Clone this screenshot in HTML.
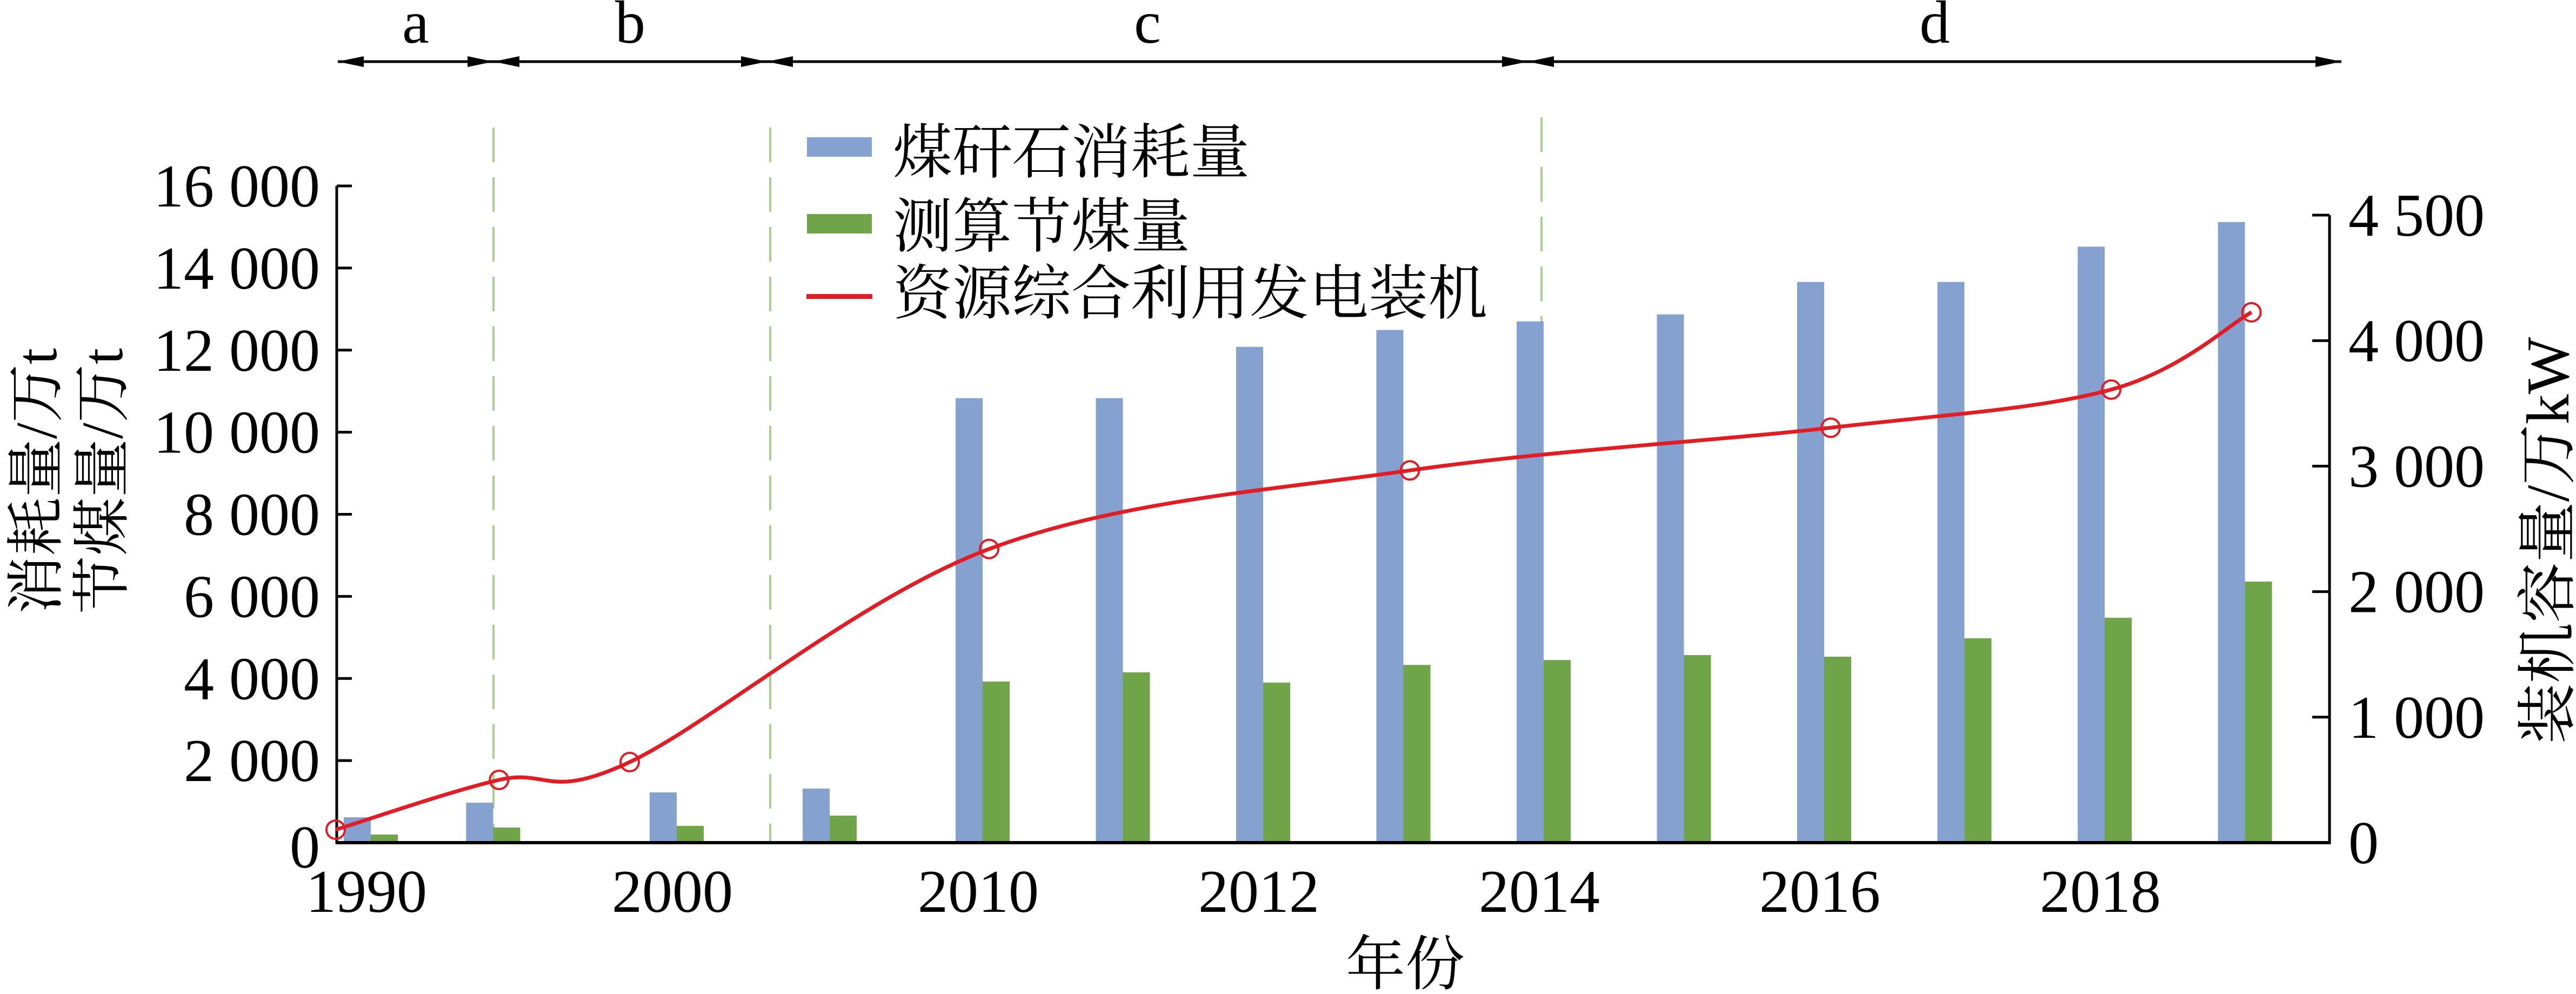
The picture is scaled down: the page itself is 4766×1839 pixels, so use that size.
<!DOCTYPE html>
<html><head><meta charset="utf-8">
<style>
html,body{margin:0;padding:0;background:#fff;}
svg{display:block;}
svg text{font-family:"Liberation Serif","Noto Serif CJK SC","Noto Sans CJK SC",serif;fill:#000;}
</style></head>
<body>
<svg id="chart" width="4766" height="1839" viewBox="0 0 4766 1839" xmlns="http://www.w3.org/2000/svg" font-family="'Liberation Serif','Noto Serif CJK SC',serif">
<defs>
<marker id="ah" viewBox="0 0 48 20" refX="48" refY="10" markerWidth="48" markerHeight="20" markerUnits="userSpaceOnUse" orient="auto-start-reverse"><path d="M0,0 L48,10 L0,20 Z" fill="#000"/></marker>
</defs>
<g id="annot"></g>
<g id="bars"></g>
<g id="axes"></g>
<g id="line"></g>
<g id="legend">
  <rect x="1493" y="254" width="120" height="36" fill="#84a1d0"/>
  <text x="1652" y="320" font-size="110">煤矸石消耗量</text>
  <rect x="1493" y="396" width="120" height="36" fill="#6fa548"/>
  <text x="1652" y="457" font-size="110">测算节煤量</text>
  <rect x="1492" y="544" width="122" height="9" fill="#e31b23"/>
  <text x="1652" y="581" font-size="110">资源综合利用发电装机</text>
</g>
<text font-size="108" text-anchor="middle" transform="translate(104,890) rotate(-90)">消耗量/万t</text>
<text font-size="108" text-anchor="middle" transform="translate(226,890) rotate(-90)">节煤量/万t</text>
<text font-size="112" text-anchor="middle" transform="translate(4752,1000) rotate(-90)">装机容量/万kW</text>
<text font-size="110" text-anchor="middle" x="2600" y="1822">年份</text>
</svg>
<script>
// ---- data ----
const barYears = [1990, 1994, 2000, 2005, 2010, 2011, 2012, 2013, 2014, 2015, 2016, 2017, 2018, 2019];
const gangueValues = [618, 974, 1224, 1317, 10830, 10830, 12080, 12490, 12700, 12870, 13660, 13660, 14520, 15120];
const savingValues = [197, 368, 408, 659, 3926, 4150, 3900, 4330, 4450, 4570, 4530, 4980, 5480, 6360];
const lineYears = [1990, 1995, 1999, 2010, 2013, 2016, 2018, 2019];
const capacityValues = [103, 500, 642, 2340, 2966, 3306, 3610, 4226];
const xTickYears = [1990, 2000, 2010, 2012, 2014, 2016, 2018];
const xTickLabels = ["1990", "2000", "2010", "2012", "2014", "2016", "2018"];
const leftTicks = [0, 2000, 4000, 6000, 8000, 10000, 12000, 14000, 16000];
const leftTickLabels = ["0", "2 000", "4 000", "6 000", "8 000", "10 000", "12 000", "14 000", "16 000"];
const rightTicks = [0, 1000, 2000, 3000, 4000, 5000];
const rightTickLabels = ["0", "1 000", "2 000", "3 000", "4 000", "4 500"];
const periodLabels = ["a", "b", "c", "d"];

// ---- layout ----
const NS = "http://www.w3.org/2000/svg";
const X0 = 623, X1 = 4310, Y0 = 1559;
const leftTop = 344, rightTop = 398;
function yL(v){ return Y0 - v * (Y0 - leftTop) / 16000; }
function yR(v){ return Y0 - v * (Y0 - rightTop) / 5000; }
function xBar(y){ return y <= 2010 ? 1818 + (y - 2010) * 56.6 : 1818 + (y - 2010) * 259.5; }
function xLine(y){ return y <= 2010 ? 1830 + (y - 2010) * 60.45 : 1830 + (y - 2010) * 259.5; }
function mk(tag, attrs, parent){ const e = document.createElementNS(NS, tag); for (const k in attrs) e.setAttribute(k, attrs[k]); parent.appendChild(e); return e; }

const gBars = document.getElementById('bars');
const gAxes = document.getElementById('axes');
const gLine = document.getElementById('line');
const gAnn = document.getElementById('annot');
const BW = 50;

const sepX = [913, 1425, 2852], sepTop = [236, 236, 217];
sepX.forEach((x, i) => {
  const l = mk('line', {x1: x, x2: x, y1: sepTop[i], y2: Y0, stroke: '#a9d08e', 'stroke-width': 4, 'stroke-dasharray': '64 28'}, gAnn);
  
  
});
const arrowB = [625, 913, 1419, 2827, 4332];
periodLabels.forEach((p, i) => {
  const a = mk('line', {x1: arrowB[i], x2: arrowB[i+1], y1: 114, y2: 114, stroke: '#000', 'stroke-width': 5, 'marker-start': 'url(#ah)', 'marker-end': 'url(#ah)'}, gAnn);
  
  
  const t = mk('text', {x: (arrowB[i] + arrowB[i+1]) / 2, y: 79, 'font-size': 112, 'text-anchor': 'middle'}, gAnn);
  t.textContent = p;
  
  
});

barYears.forEach((yr, i) => {
  const c = xBar(yr);
  const b = mk('rect', {x: c - BW, y: yL(gangueValues[i]), width: BW, height: Y0 - yL(gangueValues[i]), fill: '#84a1d0'}, gBars);
  
  
  const g = mk('rect', {x: c, y: yL(savingValues[i]), width: BW, height: Y0 - yL(savingValues[i]), fill: '#6fa548'}, gBars);
  
  
});

const axL = mk('line', {x1: X0, x2: X0, y1: leftTop, y2: Y0 + 2, stroke: '#000', 'stroke-width': 5}, gAxes);


const axR = mk('line', {x1: X1, x2: X1, y1: rightTop, y2: Y0 + 2, stroke: '#000', 'stroke-width': 5}, gAxes);


const axB = mk('line', {x1: X0 - 2, x2: X1 + 2, y1: Y0, y2: Y0, stroke: '#000', 'stroke-width': 6}, gAxes);



leftTicks.forEach((v, i) => {
  const y = yL(v);
  if (v > 0) { const t = mk('line', {x1: X0, x2: X0 + 28, y1: y, y2: y, stroke: '#000', 'stroke-width': 5}, gAxes);
    
     }
  const lb = mk('text', {x: 592, y: y + (v === 0 ? 46 : 38), 'font-size': 112, 'text-anchor': 'end'}, gAxes);
  lb.textContent = leftTickLabels[i];
  
  
});
rightTicks.forEach((v, i) => {
  const y = yR(v);
  if (v > 0) { const t = mk('line', {x1: X1 - 32, x2: X1, y1: y, y2: y, stroke: '#000', 'stroke-width': 5}, gAxes);
    
     }
  const lb = mk('text', {x: 4345, y: y + 38, 'font-size': 112, 'text-anchor': 'start'}, gAxes);
  lb.textContent = rightTickLabels[i];
  
  
});
xTickYears.forEach((yr, i) => {
  const lb = mk('text', {x: xBar(yr) - 8, y: 1687, 'font-size': 112, 'text-anchor': 'middle'}, gAxes);
  lb.textContent = xTickLabels[i];
  
  
});

// Catmull-Rom curve through points
const px = lineYears.map(xLine), py = capacityValues.map(yR);
const n = px.length;
let dstr = 'M' + px[0] + ',' + py[0];
for (let i = 0; i < n - 1; i++) {
  const x0 = i > 0 ? px[i-1] : px[i], y0 = i > 0 ? py[i-1] : py[i];
  const x3 = i < n - 2 ? px[i+2] : px[i+1], y3 = i < n - 2 ? py[i+2] : py[i+1];
  const c1x = px[i] + (px[i+1] - x0) / 6, c1y = py[i] + (py[i+1] - y0) / 6;
  const c2x = px[i+1] - (x3 - px[i]) / 6, c2y = py[i+1] - (y3 - py[i]) / 6;
  dstr += ' C' + c1x.toFixed(1) + ',' + c1y.toFixed(1) + ' ' + c2x.toFixed(1) + ',' + c2y.toFixed(1) + ' ' + px[i+1].toFixed(1) + ',' + py[i+1].toFixed(1);
}
const path = mk('path', {d: dstr, fill: 'none', stroke: '#e31b23', 'stroke-width': 7, 'stroke-linejoin': 'round'}, gLine);


lineYears.forEach((yr, i) => {
  const m = mk('circle', {cx: xLine(yr), cy: yR(capacityValues[i]), r: 17, fill: 'none', stroke: '#e31b23', 'stroke-width': 4}, gLine);
  
  
});
</script>
</body></html>
